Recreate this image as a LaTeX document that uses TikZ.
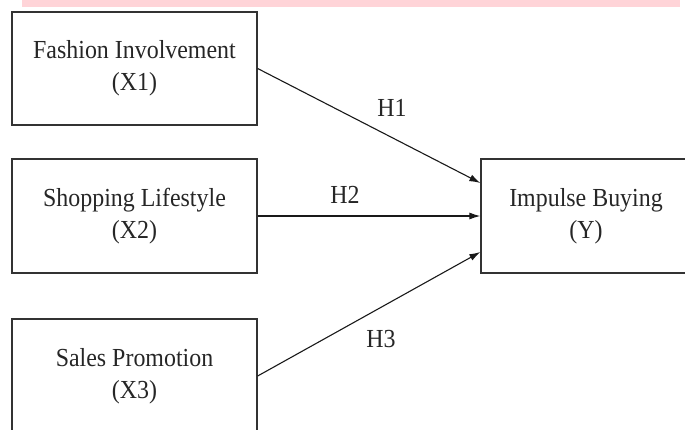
\documentclass[tikz,border=0pt]{standalone}
\usepackage{fontspec}
\setmainfont[FakeStretch=0.92]{Liberation Serif}
\usetikzlibrary{arrows.meta}
\definecolor{bandpink}{RGB}{255,212,216}
\tikzset{
    varbox/.style={draw=black!80, line width=1.3pt, minimum width=245pt, minimum height=114pt,
        align=center, font=\fontsize{26}{32}\selectfont, text=black!85, inner sep=0pt},
    hyparrow/.style={draw=black!90, line width=1.1pt, -{Latex[length=11pt,width=7pt]}},
    hyplabel/.style={font=\fontsize{26}{28}\selectfont, text=black!85, inner sep=0pt}
}

\begin{document}
\begin{tikzpicture}[x=1pt,y=-1pt]
\useasboundingbox (0,0) rectangle (685,429);
\clip (0,0) rectangle (685,429);
\fill[bandpink] (22,-2) rectangle (680,7);

\node[varbox, minimum height=113pt] (x1) at (134.5,68.5) {Fashion Involvement\\(X1)};
\node[varbox] (x2) at (134.5,216) {Shopping Lifestyle\\(X2)};
\node[varbox] (x3) at (134.5,376) {Sales Promotion\\(X3)};
\node[varbox, minimum width=210pt] (y) at (586,216) {Impulse Buying\\(Y)};

\draw[hyparrow] (x1.east) -- ([yshift=33pt]y.west);
\draw[hyparrow] (x2.east) -- (y.west);
\draw[hyparrow] (x3.east) -- ([yshift=-36pt]y.west);

\node[hyplabel] (h1) at (392,108) {H1};
\node[hyplabel] (h2) at (345,195) {H2};
\node[hyplabel] (h3) at (381,339) {H3};
\end{tikzpicture}
\end{document}
